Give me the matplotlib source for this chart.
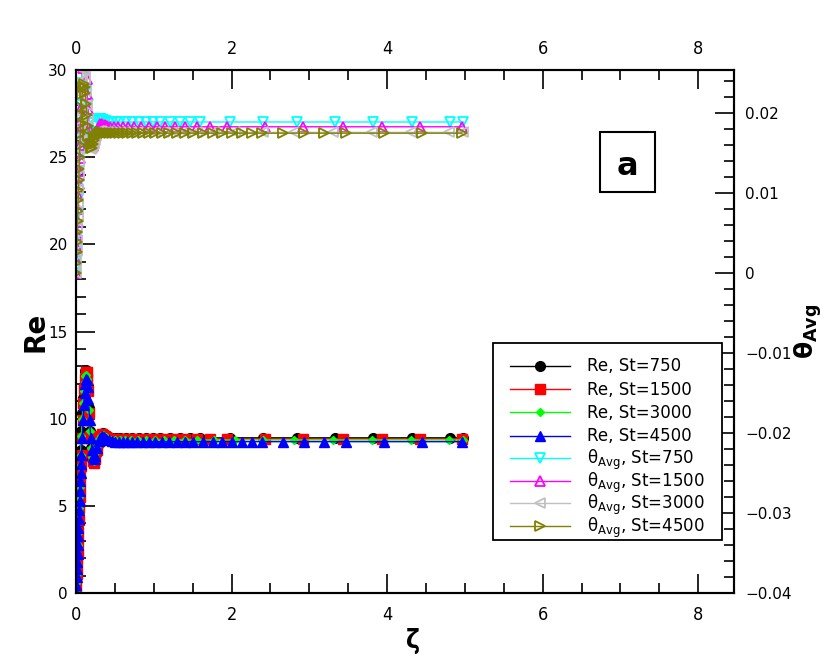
import os
import matplotlib
matplotlib.use('Agg')
import matplotlib.pyplot as plt
import matplotlib.font_manager as fm
from matplotlib.ticker import MultipleLocator, FuncFormatter
from matplotlib.patches import Rectangle

plt.rcParams['font.family'] = ['DejaVu Sans']
plt.rcParams['mathtext.default'] = 'regular'

# ---------------- data ----------------
z750 = [0.0, 0.004, 0.008, 0.012, 0.016, 0.02, 0.025, 0.03, 0.035, 0.04, 0.045, 0.05, 0.055, 0.06,
        0.07, 0.08, 0.09, 0.10, 0.11, 0.12, 0.13, 0.14, 0.15,
        0.165, 0.18, 0.195, 0.21, 0.225, 0.24,
        0.26, 0.28, 0.30, 0.32, 0.35, 0.38, 0.42, 0.46,
        0.51, 0.57, 0.64, 0.72, 0.81, 0.90, 0.99, 1.08, 1.21, 1.34, 1.47, 1.59, 1.98, 2.41, 2.84, 3.33,
        3.82, 4.32, 4.81, 4.98]
re750 = [0.0, 0.6, 1.2, 1.8, 2.4, 3.0, 3.7, 4.4, 5.1, 5.8, 6.4, 7.0, 7.6, 8.2,
         9.3, 10.3, 11.2, 11.9, 12.4, 12.75, 12.8, 12.5, 11.9,
         10.6, 9.3, 8.3, 7.7, 7.5, 7.6,
         8.0, 8.5, 8.9, 9.1, 9.15, 9.05, 8.95, 8.9,
         8.88, 8.9, 8.9, 8.9, 8.9, 8.9, 8.9, 8.9, 8.9, 8.9, 8.9, 8.9, 8.9, 8.9, 8.9, 8.9,
         8.9, 8.9, 8.9, 8.9]
th750 = [0.0, 0.0015, 0.003, 0.0045, 0.006, 0.0075, 0.0093, 0.011, 0.0128, 0.0145, 0.0162, 0.0178, 0.0194, 0.021,
         0.0238, 0.0262, 0.0278, 0.0285, 0.0282, 0.0270, 0.0252, 0.0232, 0.0212,
         0.0188, 0.0172, 0.0164, 0.0163, 0.0168, 0.0176,
         0.0184, 0.0190, 0.0193, 0.0193, 0.0191, 0.0190, 0.0189, 0.0189,
         0.0189, 0.0189, 0.0189, 0.0189, 0.0189, 0.0189, 0.0189, 0.0189, 0.0189, 0.0189, 0.0189, 0.0189,
         0.0189, 0.0189, 0.0189, 0.0189, 0.0189, 0.0189, 0.0189, 0.0189]

z1500 = [0.0, 0.005, 0.01, 0.015, 0.02, 0.025, 0.03, 0.035, 0.04, 0.045, 0.05, 0.055, 0.06, 0.065,
         0.075, 0.085, 0.095, 0.105, 0.115, 0.125, 0.135, 0.145, 0.155,
         0.17, 0.185, 0.20, 0.215, 0.23, 0.25,
         0.27, 0.29, 0.31, 0.34, 0.37, 0.40, 0.44, 0.49,
         0.54, 0.60, 0.67, 0.75, 0.84, 0.94, 1.04, 1.15, 1.27, 1.40, 1.55, 1.72, 1.94, 2.43, 2.92, 3.43,
         3.94, 4.42, 4.96]
re1500 = [0.0, 0.55, 1.1, 1.7, 2.3, 2.9, 3.5, 4.2, 4.9, 5.5, 6.1, 6.7, 7.3, 7.9,
          8.9, 9.9, 10.9, 11.7, 12.3, 12.7, 12.65, 12.3, 11.6,
          10.3, 9.0, 8.1, 7.6, 7.45, 7.7,
          8.2, 8.7, 9.0, 9.1, 9.0, 8.9, 8.85, 8.85,
          8.85, 8.85, 8.85, 8.85, 8.85, 8.85, 8.85, 8.85, 8.85, 8.85, 8.85, 8.85, 8.85, 8.85, 8.85, 8.85,
          8.85, 8.85, 8.85]
th1500 = [0.0, 0.0016, 0.0032, 0.0048, 0.0064, 0.008, 0.0096, 0.0112, 0.0128, 0.0144, 0.016, 0.0176, 0.0192, 0.0207,
          0.0234, 0.0256, 0.0270, 0.0276, 0.0272, 0.0260, 0.0243, 0.0224, 0.0205,
          0.0182, 0.0167, 0.0160, 0.0159, 0.0163, 0.0171,
          0.0178, 0.0183, 0.0186, 0.0186, 0.0185, 0.0184, 0.0183, 0.0183,
          0.0183, 0.0183, 0.0183, 0.0183, 0.0183, 0.0183, 0.0183, 0.0183, 0.0183, 0.0183, 0.0183, 0.0183,
          0.0183, 0.0183, 0.0183, 0.0183, 0.0183, 0.0183, 0.0183]

z3000 = [0.0, 0.004, 0.008, 0.012, 0.016, 0.02, 0.025, 0.03, 0.035, 0.04, 0.045, 0.05, 0.055, 0.06,
         0.07, 0.08, 0.09, 0.10, 0.11, 0.12, 0.13, 0.14, 0.15,
         0.165, 0.18, 0.195, 0.21, 0.225, 0.24,
         0.26, 0.28, 0.30, 0.32, 0.35, 0.38, 0.41, 0.45,
         0.50, 0.56, 0.63, 0.71, 0.80, 0.90, 1.01, 1.13, 1.26, 1.40, 1.56, 1.78, 2.05, 2.40, 2.80, 3.31,
         3.81, 4.31, 4.80, 4.98]
re3000 = [0.0, 0.55, 1.1, 1.65, 2.2, 2.75, 3.45, 4.15, 4.85, 5.5, 6.1, 6.7, 7.3, 7.9,
          9.0, 10.0, 10.9, 11.6, 12.1, 12.45, 12.5, 12.25, 11.7,
          10.5, 9.3, 8.3, 7.8, 7.6, 7.7,
          8.1, 8.5, 8.85, 9.0, 9.05, 8.95, 8.85, 8.8,
          8.78, 8.78, 8.78, 8.78, 8.78, 8.78, 8.78, 8.78, 8.78, 8.78, 8.78, 8.78, 8.78, 8.78, 8.78, 8.78,
          8.78, 8.78, 8.78, 8.78]
th3000 = [0.0, 0.0014, 0.0028, 0.0042, 0.0056, 0.007, 0.0088, 0.0105, 0.0122, 0.0139, 0.0155, 0.017, 0.0185, 0.0199,
          0.0224, 0.0242, 0.0254, 0.0258, 0.0254, 0.0243, 0.0228, 0.0210, 0.0193,
          0.0172, 0.0160, 0.0155, 0.0156, 0.0161, 0.0167,
          0.0172, 0.0176, 0.0178, 0.0178, 0.0177, 0.0177, 0.0176, 0.0176,
          0.0176, 0.0176, 0.0176, 0.0176, 0.0176, 0.0176, 0.0176, 0.0176, 0.0176, 0.0176, 0.0176, 0.0176,
          0.0176, 0.0176, 0.0176, 0.0176, 0.0176, 0.0176, 0.0176, 0.0176]

z4500 = [0.0, 0.004, 0.008, 0.012, 0.016, 0.02, 0.024, 0.028, 0.032, 0.036, 0.04, 0.045, 0.05, 0.055, 0.06, 0.065,
         0.07, 0.08, 0.09, 0.10, 0.11, 0.12, 0.13, 0.14, 0.15, 0.16,
         0.175, 0.19, 0.205, 0.22, 0.235, 0.25,
         0.27, 0.29, 0.31, 0.33, 0.36, 0.39, 0.42, 0.46,
         0.50, 0.55, 0.60, 0.66, 0.72, 0.79, 0.86, 0.94, 1.02, 1.11, 1.20, 1.30, 1.40, 1.51,
         1.63, 1.76, 1.88, 2.01, 2.13, 2.26, 2.39, 2.66, 2.93, 3.19, 3.47, 3.96, 4.45, 4.96]
re4500 = [0.0, 0.45, 0.9, 1.35, 1.8, 2.25, 2.75, 3.25, 3.75, 4.25, 4.75, 5.3, 5.85, 6.4, 6.9, 7.4,
          7.9, 8.9, 9.9, 10.8, 11.5, 12.0, 12.3, 12.2, 11.8, 11.1,
          9.9, 8.9, 8.2, 7.8, 7.7, 7.85,
          8.3, 8.7, 8.9, 9.0, 8.95, 8.85, 8.75, 8.7,
          8.68, 8.68, 8.68, 8.68, 8.68, 8.68, 8.68, 8.68, 8.68, 8.68, 8.68, 8.68, 8.68, 8.68,
          8.68, 8.68, 8.68, 8.68, 8.68, 8.68, 8.68, 8.68, 8.68, 8.68, 8.68, 8.68, 8.68, 8.68]
th4500 = [0.0, 0.0013, 0.0026, 0.0039, 0.0052, 0.0065, 0.0078, 0.0091, 0.0104, 0.0117, 0.013, 0.0145, 0.016, 0.0174, 0.0187, 0.0198,
          0.0208, 0.0224, 0.0233, 0.0236, 0.0233, 0.0225, 0.0212, 0.0198, 0.0184, 0.0172,
          0.0161, 0.0156, 0.0157, 0.0161, 0.0166, 0.0170,
          0.0173, 0.0175, 0.0176, 0.0176, 0.0175, 0.0175, 0.0175, 0.0175,
          0.0175, 0.0175, 0.0175, 0.0175, 0.0175, 0.0175, 0.0175, 0.0175, 0.0175, 0.0175, 0.0175, 0.0175, 0.0175, 0.0175,
          0.0175, 0.0175, 0.0175, 0.0175, 0.0175, 0.0175, 0.0175, 0.0175, 0.0175, 0.0175, 0.0175, 0.0175, 0.0175, 0.0175]

st_labels = ['750', '1500', '3000', '4500']
x_ticks = [0, 2, 4, 6, 8]


# ---------------- font lookup ----------------
def find_font(keys):
    for k in keys:
        for f in fm.fontManager.ttflist:
            if k.lower() in os.path.basename(f.fname).lower():
                return f.fname
    return None


narrow_reg = find_font(['LiberationSansNarrow-Regular', 'DejaVuSansCondensed.ttf', 'Condensed.ttf'])
narrow_bold = find_font(['LiberationSansNarrow-Bold.', 'DejaVuSansCondensed-Bold.', 'Condensed-Bold.'])


def fp_reg(size):
    if narrow_reg:
        return fm.FontProperties(fname=narrow_reg, size=size)
    return fm.FontProperties(family='DejaVu Sans', size=size)


def fp_bold(size):
    if narrow_bold:
        return fm.FontProperties(fname=narrow_bold, size=size)
    return fm.FontProperties(family='DejaVu Sans', size=size, weight='bold')


# ---------------- figure ----------------
fig = plt.figure(figsize=(8.3, 6.68), dpi=100)
ax = fig.add_axes([76 / 830, 75 / 668, 658 / 830, 523 / 668])
ax2 = ax.twinx()

lw = 1.0
h = []
h += ax.plot(z750, re750, color='black', lw=lw, marker='o', ms=7, mfc='black', mec='black')
h += ax.plot(z1500, re1500, color='red', lw=lw, marker='s', ms=7, mfc='red', mec='red')
h += ax.plot(z3000, re3000, color='#00ff00', lw=lw, marker='D', ms=4.2, mfc='#00ff00', mec='#00ff00')
h += ax.plot(z4500, re4500, color='blue', lw=lw, marker='^', ms=7.5, mfc='blue', mec='blue')

h += ax2.plot(z750, th750, color='#00ffff', lw=lw, marker='v', ms=6.5, mfc='none', mec='#00ffff', mew=1.3)
h += ax2.plot(z1500, th1500, color='#ff00ff', lw=lw, marker='^', ms=6.5, mfc='none', mec='#ff00ff', mew=1.3)
h += ax2.plot(z3000, th3000, color='#c0c0c0', lw=lw, marker='<', ms=6.5, mfc='none', mec='#c0c0c0', mew=1.3)
h += ax2.plot(z4500, th4500, color='#808000', lw=lw, marker='>', ms=6.5, mfc='none', mec='#808000', mew=1.3)

re_labels = ['Re, St=' + s for s in st_labels]
th_labels = ['θ$_{Avg}$, St=' + s for s in st_labels]

ax.set_xlim(0, 8.46)
ax.set_ylim(0, 30)
ax2.set_ylim(-0.04, 0.0254)

for a in (ax, ax2):
    for sp in a.spines.values():
        sp.set_linewidth(1.5)

ax.set_xticks(x_ticks)
ax.xaxis.set_minor_locator(MultipleLocator(0.5))
ax.yaxis.set_major_locator(MultipleLocator(5))
ax.yaxis.set_minor_locator(MultipleLocator(1))
ax.tick_params(axis='x', which='both', direction='in', top=True, bottom=True,
               labeltop=True, labelbottom=True, labelsize=13, pad=9, width=1.2)
ax.tick_params(axis='x', which='major', length=14)
ax.tick_params(axis='x', which='minor', length=7)
ax.tick_params(axis='y', which='both', direction='in', left=True, right=False,
               labelsize=11, pad=6, width=1.2)
ax.tick_params(axis='y', which='major', length=14)
ax.tick_params(axis='y', which='minor', length=7)

ax2.yaxis.set_major_locator(MultipleLocator(0.01))
ax2.yaxis.set_minor_locator(MultipleLocator(0.002))
ax2.yaxis.set_major_formatter(FuncFormatter(lambda v, p: ('%g' % round(v, 4)).replace('-', '\u2212')))
ax2.tick_params(axis='y', which='both', direction='in', right=True, left=False,
                labelsize=11, pad=8, width=1.2)
ax2.tick_params(axis='y', which='major', length=14)
ax2.tick_params(axis='y', which='minor', length=7)

ax.set_ylabel('Re', fontsize=20, fontweight='bold', va='center', ha='center')
ax.yaxis.set_label_coords(-0.062, 0.5)
ax2.set_ylabel('θ$_{Avg}$', fontsize=18, fontweight='bold', rotation=90, va='center', ha='center')
ax2.yaxis.set_label_coords(1.113, 0.5)
ax.set_xlabel('ζ', fontproperties=fp_bold(19))
ax.xaxis.set_label_coords(0.512, -0.066)

# panel tag
ax2.add_patch(Rectangle(((600 - 76) / 658, (593 - 192) / 523), 55 / 658, 60 / 523,
                        transform=ax2.transAxes, fill=False, ec='black', lw=1.5, zorder=5))
ax2.text((627.5 - 76) / 658, (593 - 175) / 523, 'a', transform=ax2.transAxes,
         ha='center', va='baseline', fontsize=23, fontweight='bold', zorder=6)

# legend: shared frame + two stacked legends (equal row pitch)
ax2.add_patch(Rectangle(((493 - 76) / 658, (593 - 540) / 523), 229 / 658, 197 / 523,
                        transform=ax2.transAxes, fc='white', ec='black', lw=1.3, zorder=9))
common = dict(loc='upper left', borderaxespad=0, borderpad=0, fontsize=12, frameon=False,
              handlelength=3.6, handletextpad=1.0)
leg1 = ax2.legend(h[:4], re_labels, bbox_to_anchor=((510 - 76) / 658, (593 - 357.5) / 523),
                  labelspacing=0.32, **common)
leg1.set_zorder(10)
ax2.add_artist(leg1)
leg2 = ax2.legend(h[4:], th_labels, bbox_to_anchor=((510 - 76) / 658, (593 - 448) / 523),
                  labelspacing=-0.1, **common)
leg2.set_zorder(10)

fig.canvas.draw()
for t in ax.xaxis.get_major_ticks():
    t.label1.set_fontproperties(fp_reg(13))
    t.label2.set_fontproperties(fp_reg(13))

fig.savefig('out.png', dpi=100)
